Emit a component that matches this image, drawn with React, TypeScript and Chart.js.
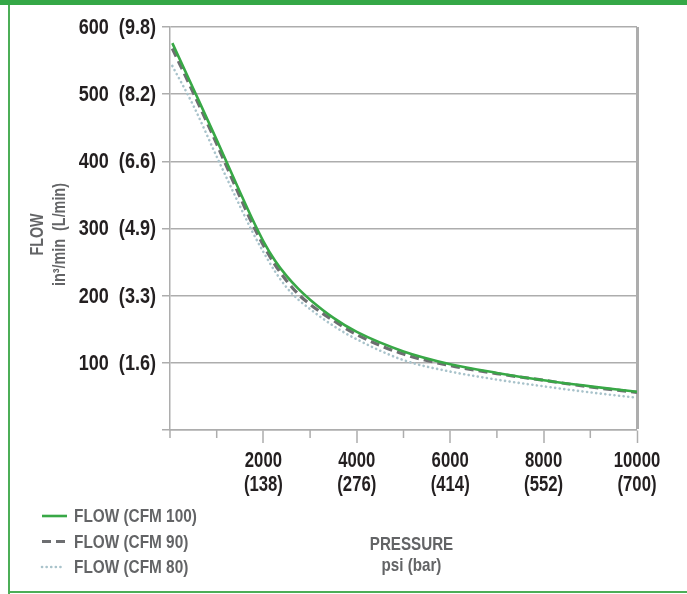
import React, { useEffect, useRef } from 'react';
import { Chart, registerables } from 'chart.js';
Chart.register(...registerables);

// ---- data ----
const pressure = [50, 500, 1000, 1500, 1750, 2000, 2250, 2500, 2750, 3000, 3500, 4000, 5000, 6000, 7000, 8000, 9000, 10000];
const flowCfm100 = [576, 508, 432, 354, 316, 281, 252, 229, 210, 194, 167, 146, 117, 98, 85, 74, 65, 57];
const flowCfm90 = [568, 502, 426, 347, 309, 275, 246, 222, 202, 187, 163, 142, 113, 96, 84, 74, 64, 56];
const flowCfm80 = [542, 483, 407, 333, 297, 265, 236, 212, 194, 180, 155, 135, 104, 87, 75, 65, 56, 48];
const seriesLabels = ['FLOW (CFM 100)', 'FLOW (CFM 90)', 'FLOW (CFM 80)'];

const flowTicks = [100, 200, 300, 400, 500, 600];
const flowTickLabels = ['100  (1.6)', '200  (3.3)', '300  (4.9)', '400  (6.6)', '500  (8.2)', '600  (9.8)'];
const pressureTicks = [2000, 4000, 6000, 8000, 10000];
const pressureTickBar = ['(138)', '(276)', '(414)', '(552)', '(700)'];
const minorPressureTicks = [0, 1000, 3000, 5000, 7000, 9000];

const yTitle = ['FLOW', 'in³/min  (L/min)'];
const xTitle = ['PRESSURE', 'psi (bar)'];

// ---- styles ----
const FONT = "'Liberation Sans', Arial, sans-serif";
const GRID = '#adadad';
const DARK = '#231f20';
const GRAY = '#636466';
const GREEN = '#38a846';
const DASH = '#6d6e71';
const DOT = '#a9c3cb';

const styles = [
  { color: GREEN, width: 2.6, dash: [] as number[], cap: 'butt' as CanvasLineCap },
  { color: DASH, width: 3.2, dash: [9, 5], cap: 'butt' as CanvasLineCap },
  { color: DOT, width: 2.6, dash: [0.1, 4.5], cap: 'round' as CanvasLineCap },
];

// condensed text: horizontally scaled bold sans
function condensedText(
  ctx: CanvasRenderingContext2D,
  text: string,
  x: number,
  y: number,
  size: number,
  sx: number,
  color: string,
  align: CanvasTextAlign,
  rotate = 0
) {
  ctx.save();
  ctx.translate(x, y);
  if (rotate) ctx.rotate(rotate);
  ctx.scale(sx, 1);
  ctx.font = `bold ${size}px ${FONT}`;
  ctx.fillStyle = color;
  ctx.textAlign = align;
  ctx.textBaseline = 'middle';
  ctx.fillText(text, 0, 0);
  ctx.restore();
}

const overlay = {
  id: 'overlay',
  afterDraw(chart: any) {
    const ctx = chart.ctx as CanvasRenderingContext2D;
    const xs = chart.scales.x;
    const ys = chart.scales.y;
    const area = chart.chartArea;
    ctx.save();
    // minor x ticks
    ctx.strokeStyle = GRID;
    ctx.lineWidth = 1.5;
    minorPressureTicks.forEach((v) => {
      const px = xs.getPixelForValue(v);
      ctx.beginPath();
      ctx.moveTo(px, area.bottom);
      ctx.lineTo(px, area.bottom + 8);
      ctx.stroke();
    });
    // y tick labels
    flowTicks.forEach((v, i) => {
      condensedText(ctx, flowTickLabels[i], area.left - 14, ys.getPixelForValue(v) + 1, 21.5, 0.84, DARK, 'right');
    });
    // x tick labels
    pressureTicks.forEach((v, i) => {
      const px = xs.getPixelForValue(v);
      condensedText(ctx, String(v), px, area.bottom + 31, 22, 0.76, DARK, 'center');
      condensedText(ctx, pressureTickBar[i], px, area.bottom + 55, 22, 0.76, DARK, 'center');
    });
    // y title (rotated, two lines)
    const cy = (area.top + area.bottom) / 2 + 6;
    condensedText(ctx, yTitle[0], 38, cy, 17.5, 0.82, GRAY, 'center', -Math.PI / 2);
    condensedText(ctx, yTitle[1], 60, cy, 17.5, 0.82, GRAY, 'center', -Math.PI / 2);
    // x title
    const cx = (area.left + area.right) / 2 + 8;
    condensedText(ctx, xTitle[0], cx, 545, 18.5, 0.82, GRAY, 'center');
    condensedText(ctx, xTitle[1], cx, 566, 18.5, 0.82, GRAY, 'center');
    // legend
    chart.data.datasets.forEach((ds: any, i: number) => {
      const y = 516 + i * 25.5;
      const st = styles[i];
      ctx.save();
      ctx.strokeStyle = st.color;
      ctx.lineWidth = st.width;
      ctx.setLineDash(st.dash);
      ctx.lineCap = st.cap;
      ctx.beginPath();
      ctx.moveTo(42, y);
      ctx.lineTo(i === 2 ? 64 : 67, y);
      ctx.stroke();
      ctx.restore();
      condensedText(ctx, ds.label, 74, y + 1, 18.5, 0.83, GRAY, 'left');
    });
    ctx.restore();
  },
};

export default function App() {
  const ref = useRef<HTMLCanvasElement>(null);
  useEffect(() => {
    if (!ref.current) return;
    const series = [flowCfm100, flowCfm90, flowCfm80];
    const chart = new Chart(ref.current, {
      type: 'line',
      data: {
        datasets: series.map((vals, i) => ({
          label: seriesLabels[i],
          data: pressure.map((p, j) => ({ x: p, y: vals[j] })),
          borderColor: styles[i].color,
          borderWidth: styles[i].width,
          borderDash: styles[i].dash,
          borderCapStyle: styles[i].cap,
          pointRadius: 0,
          fill: false,
          cubicInterpolationMode: 'monotone',
        })),
      },
      options: {
        responsive: false,
        animation: false,
        devicePixelRatio: 1,
        layout: { padding: { left: 0, top: 27, right: 50, bottom: 0 } },
        plugins: { legend: { display: false }, tooltip: { enabled: false } },
        scales: {
          x: {
            type: 'linear',
            min: 0,
            max: 10000,
            afterFit: (s: any) => { s.height = 164; },
            afterBuildTicks: (s: any) => {
              s.ticks = pressureTicks.map((v) => ({ value: v }));
            },
            border: { display: true, color: GRID, width: 1.5 },
            grid: {
              drawOnChartArea: true,
              color: (c: any) => (c.tick && c.tick.value === 10000 ? GRID : 'rgba(0,0,0,0)'),
              lineWidth: (c: any) => (c.tick && c.tick.value === 10000 ? 3 : 0),
              tickColor: GRID,
              tickWidth: 1.5,
              tickLength: 13,
            },
            ticks: { display: false },
          },
          y: {
            min: 0,
            max: 600,
            afterFit: (s: any) => { s.width = 170; },
            afterBuildTicks: (s: any) => {
              s.ticks = [0, ...flowTicks].map((v) => ({ value: v }));
            },
            border: { display: true, color: GRID, width: 1.5 },
            grid: {
              color: GRID,
              lineWidth: 1.5,
              tickColor: GRID,
              tickLength: 8,
            },
            ticks: { display: false },
          },
        },
      },
      plugins: [overlay],
    } as any);
    return () => chart.destroy();
  }, []);

  return (
    <div style={{ position: 'fixed', left: 0, top: 0, width: 687, height: 594, background: '#fff' }}>
      <canvas ref={ref} width={687} height={594} style={{ width: 687, height: 594, display: 'block' }} />
      <div style={{ position: 'absolute', left: 0, top: 0, width: 687, height: 5, background: '#35a847' }} />
      <div style={{ position: 'absolute', left: 8, top: 5, width: 2, height: 589, background: '#4cae57' }} />
      <div style={{ position: 'absolute', left: 8, top: 591, width: 679, height: 2, background: '#4cae57' }} />
    </div>
  );
}
